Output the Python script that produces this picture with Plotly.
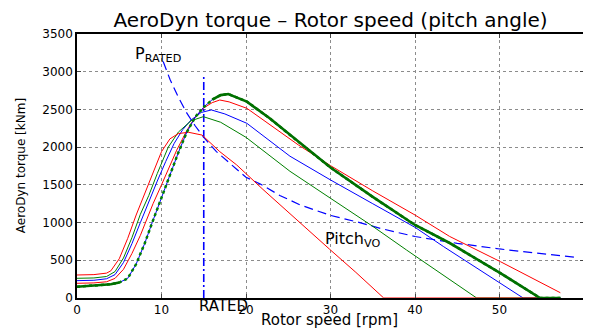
import plotly.graph_objects as go

# ---- data ----
red1_x = [0, 2, 3.5, 4, 5, 6, 7, 8, 9, 10, 11, 12, 13.2, 14.8, 16.9, 18.9, 22, 25.2, 29.9, 33, 36.3, 57.2]
red1_y = [305, 310, 330, 360, 520, 790, 1100, 1380, 1650, 1940, 2110, 2180, 2197, 2160, 1940, 1764, 1440, 1114, 646, 340, 0, 0]

green1_x = [0, 2, 3.5, 4.5, 5.5, 6.5, 7.5, 8.5, 9.5, 10.8, 12, 13.5, 14.95, 17, 20, 25.2, 30, 35, 39, 47.3, 57.2]
green1_y = [261, 266, 285, 350, 530, 800, 1110, 1360, 1650, 2000, 2200, 2350, 2404, 2330, 2130, 1680, 1322, 950, 636, 0, 0]

blue1_x = [0, 2, 3.5, 4.5, 5.5, 6.5, 7.5, 8.5, 9.5, 10.5, 11.5, 12.5, 13.5, 14.7, 15.9, 17.5, 20.1, 25.2, 30, 35, 40, 43.4, 52.8, 57.2]
blue1_y = [230, 235, 255, 310, 470, 720, 1000, 1280, 1550, 1810, 2050, 2230, 2360, 2460, 2493, 2440, 2316, 1880, 1565, 1250, 937, 680, 0, 0]

red2_x = [0, 2, 3.5, 4.5, 5.5, 6.5, 7.5, 8.1, 9, 10, 11, 11.8, 13, 14, 15, 16, 16.9, 18, 20.1, 26.2, 30, 35, 40, 44.1, 50.1, 57.2]
red2_y = [195, 200, 215, 260, 380, 590, 830, 1000, 1250, 1500, 1760, 1960, 2220, 2400, 2520, 2590, 2625, 2600, 2515, 2029, 1755, 1420, 1100, 816, 482, 70]

green0_x = [0, 2, 4, 5, 6, 7, 8, 8.9, 10, 11, 12, 13, 14, 15, 16, 17, 17.9, 20.1, 22.8, 26.2, 30, 35, 40, 44.1, 50.1, 54.8, 57.2]
green0_y = [150, 163, 182, 205, 260, 450, 720, 1000, 1330, 1640, 1930, 2200, 2400, 2530, 2630, 2690, 2705, 2604, 2383, 2070, 1730, 1340, 968, 729, 330, 0, 0]

prated_x = [10.2, 11, 12, 13, 14, 15, 16.5, 18.3, 20, 21.7, 24, 26.4, 30, 33.1, 36, 40, 45, 50, 55, 58.9]
prated_y = [3135, 2900, 2660, 2450, 2280, 2130, 1940, 1760, 1600, 1510, 1360, 1235, 1095, 1010, 920, 815, 725, 650, 590, 540]

rated_speed = 15.0
rated_line_top = 2957

x_ticks = [0, 10, 20, 30, 40, 50, 60]
y_ticks = [0, 500, 1000, 1500, 2000, 2500, 3000, 3500]

RED = "#ff0000"
GREEN = "#008000"
BLUE = "#0000ff"

fig = go.Figure()

def add_line(x, y, color, width=1, dash="solid"):
    fig.add_trace(go.Scatter(x=x, y=y, mode="lines",
                             line=dict(color=color, width=width, dash=dash),
                             showlegend=False, hoverinfo="skip"))

# P_RATED curve
add_line(prated_x, prated_y, BLUE, 1.2, "9px,5px")
# rated-speed vertical
add_line([rated_speed, rated_speed], [0, rated_line_top], BLUE, 1.6, "8px,3px,2px,3px")

add_line(blue1_x, blue1_y, BLUE)
add_line(green1_x, green1_y, GREEN)
add_line(red2_x, red2_y, RED)
add_line(red1_x, red1_y, RED)

# base curve: blue line with green dots over the steep rise, thick green elsewhere
add_line(green0_x, green0_y, BLUE)
add_line(green0_x, green0_y, GREEN, 2.5, "dot")
solid_y = [v if (xx <= 5 or xx >= 16) else None for xx, v in zip(green0_x, green0_y)]
fig.add_trace(go.Scatter(x=green0_x, y=solid_y, mode="lines", connectgaps=False,
                         line=dict(color="#007000", width=2.6),
                         showlegend=False, hoverinfo="skip"))

FONT = "DejaVu Sans"
# the page body adds an 8px offset, so the figure is 8px smaller than the window
W, H = 583, 321

fig.update_layout(
    width=W, height=H,
    margin=dict(l=69, r=7, t=26, b=31, autoexpand=False),
    paper_bgcolor="white", plot_bgcolor="white",
    font=dict(family=FONT, color="black", size=12),
    title=dict(text="AeroDyn torque \u2013 Rotor speed (pitch angle)",
               x=0.5, xref="paper", xanchor="center",
               y=1 - 12 / H, yref="container", yanchor="middle",
               font=dict(family=FONT, size=20, color="black")),
    xaxis=dict(range=[0, 60], tickvals=x_ticks, ticks="inside", ticklen=4,
               showline=True, linecolor="black", linewidth=1.5, mirror="ticks",
               showgrid=True, gridcolor="#8c8c8c", griddash="dot", gridwidth=1,
               zeroline=False, tickfont=dict(size=12), automargin=False),
    yaxis=dict(range=[0, 3500], tickvals=y_ticks, ticks="inside", ticklen=4,
               showline=True, linecolor="black", linewidth=1.5, mirror="ticks",
               showgrid=True, gridcolor="#8c8c8c", griddash="dot", gridwidth=1,
               zeroline=False, tickfont=dict(size=12), automargin=False),
)

# axis titles
fig.add_annotation(x=0.499, y=-0.084, xref="paper", yref="paper", xanchor="center", yanchor="middle",
                   text="Rotor speed [rpm]", showarrow=False, borderpad=0,
                   font=dict(family=FONT, size=15, color="black"))
fig.add_annotation(x=-0.110, y=0.5, xref="paper", yref="paper", xanchor="center", yanchor="middle",
                   text="AeroDyn torque [kNm]", showarrow=False, textangle=-90,
                   font=dict(family=FONT, size=12, color="black"))

fig.add_annotation(x=6.63, y=3222, xref="x", yref="y", xanchor="left", yanchor="middle",
                   text="P<sub>RATED</sub>", showarrow=False,
                   font=dict(family=FONT, size=16, color="black"))
fig.add_annotation(x=29.15, y=782, xref="x", yref="y", xanchor="left", yanchor="middle",
                   text="Pitch<sub>VO</sub>", showarrow=False,
                   font=dict(family=FONT, size=16, color="black"))
fig.add_annotation(x=17.28, y=-0.030, xref="x", yref="paper", xanchor="center", yanchor="middle",
                   text="RATED", showarrow=False, borderpad=0,
                   font=dict(family=FONT, size=15, color="black"))

fig.write_html("out.html")
